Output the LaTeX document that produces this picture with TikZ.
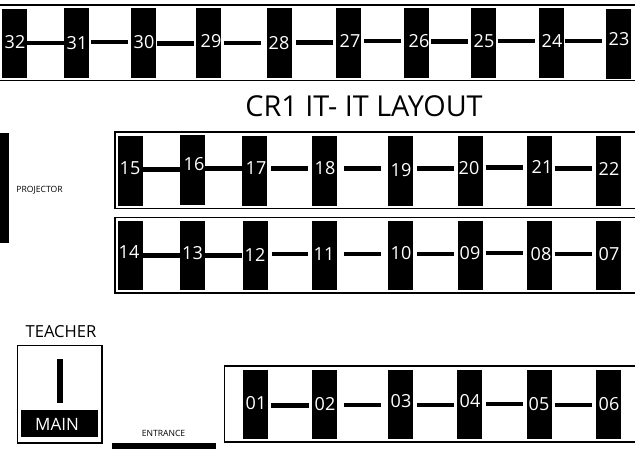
\documentclass[tikz,border=0pt]{standalone}
\usepackage{fontspec}
\setmainfont{Open Sans}
\tikzset{
  seat/.style={fill=black,inner sep=0,minimum width=25,minimum height=69.5},
  seatno/.style={text=white,inner sep=0,font=\fontsize{18}{18}\selectfont},
  bar/.style={line width=4.5},
  frame/.style={line width=1.3},
  caption/.style={inner sep=0,font=\fontsize{8.6}{8.6}\selectfont}
}
\begin{document}
\begin{tikzpicture}[x=1pt,y=-1pt]
  % Boundary
  \path[use as bounding box] (0,0) rectangle (635,449);
  % Row frames
  \draw[frame] (0,5) -- (635,5);
  \draw[frame] (0,80.5) -- (635,80.5);
  \draw[frame] (635,132) -- (115,132) -- (115,208.5) -- (635,208.5);
  \draw[frame] (635,217.5) -- (115,217.5) -- (115,293) -- (635,293);
  \draw[frame] (635,366) -- (224.5,366) -- (224.5,442) -- (635,442);
  % Seats
  \foreach \n/\x/\y/\tx/\ty in {
    32/14.5/43.5/15/42, 31/76.5/43/77/43, 30/143/43/144/42, 29/208.5/43/211/41, 28/279.5/43/279/43,
    27/348.5/43/350/41, 26/416.5/43/419/41, 25/483/43/484/41, 24/551/43/552/41, 23/618.5/44/619/39,
    15/130.5/171/130/168, 16/192.5/170/194/164, 17/254.5/171/256/168, 18/324.5/171/325/168,
    19/400.5/171/401/170, 20/470/171/469/168, 21/539/171/542/167, 22/608.5/171/609/169,
    14/130.5/255.5/129/252, 13/192.5/255.5/192.5/253, 12/255/255.5/255/255, 11/324.5/255.5/324/254,
    10/400.5/255.5/401/253.5, 09/470/255.5/470/253, 08/539/255.5/541/254, 07/608.5/255.5/609/254,
    01/255.5/404.5/256/403, 02/324.5/404.5/325/404, 03/400.5/404.5/401/401,
    04/469.5/404.5/470/401, 05/539/404.5/539/404, 06/608.5/404.5/609/404}
  {
    \node[seat] (s\n) at (\x,\y) {};
    \node[seatno] (n\n) at (\tx,\ty) {\n};
  }
  % Bars between seats
  \foreach \p/\q/\y/\gl/\gr in {
    32/31/43/0/0, 31/30/42/2/2, 30/29/43.5/1/2, 29/28/43/3/6, 28/27/42.5/4/3,
    27/26/41/3/3, 26/25/41.5/2/2, 25/24/41/2/3, 24/23/41/1/4,
    15/16/169.7/0/0, 16/17/168.3/0/0, 17/18/168.3/4/4, 18/19/168.3/7/7,
    19/20/168.3/4/3, 20/21/167.3/3/3, 21/22/168.3/3/4,
    14/13/255.5/0/0, 13/12/255.5/0/0, 12/11/254/4/4, 11/10/254/7/7,
    10/09/254/4/3, 09/08/253/3/3, 08/07/254/3/4,
    01/02/405.3/3/3, 02/03/405/7/7, 03/04/405/4/3, 04/05/404/4/3, 05/06/405/3/4}
  {
    \draw[bar,shorten <=\gl pt,shorten >=\gr pt] (s\p.east |- 0,\y) -- (s\q.west |- 0,\y);
  }
  % Title
  \node[inner sep=0,font=\fontsize{28.8}{28.8}\selectfont] (title) at (364,106) {CR1 IT- IT LAYOUT};
  % Projector
  \fill (0,133) rectangle (9,243);
  \node[caption] (projector) at (39.5,190) {PROJECTOR};
  % Teacher
  \node[inner sep=0,font=\fontsize{16.6}{16.6}\selectfont] (teacher) at (61,332) {TEACHER};
  \draw[frame] (17.5,345.5) rectangle (102,443);
  \fill (57,359) rectangle (63,403);
  \node[fill=black,inner sep=0,minimum width=77,minimum height=27] (desk) at (59.5,423.5) {};
  \node[text=white,inner sep=0,font=\fontsize{17}{17}\selectfont] (main) at (57,424) {MAIN};
  % Entrance
  \node[caption] (entrance) at (163.5,433.5) {ENTRANCE};
  \fill (112,443) rectangle (216,449);
\end{tikzpicture}
\end{document}
